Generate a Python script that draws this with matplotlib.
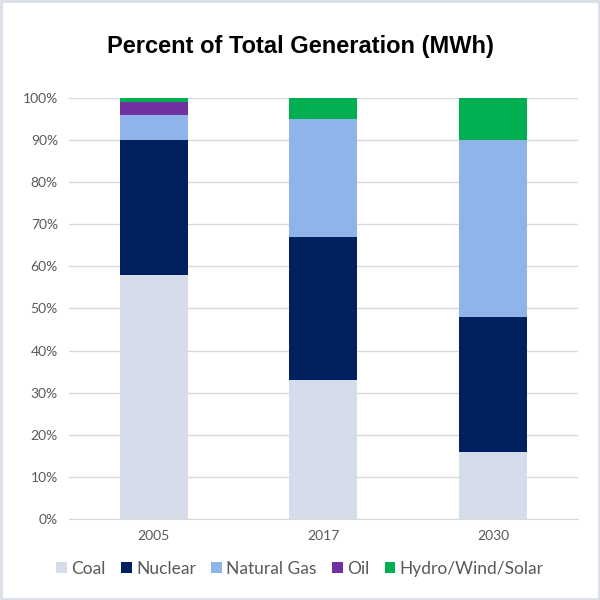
import matplotlib
matplotlib.use("Agg")
import matplotlib.pyplot as plt
from matplotlib.patches import Rectangle
import numpy as np

years = ["2005", "2017", "2030"]
coal = [58, 33, 16]
nuclear = [32, 34, 32]
natural_gas = [6, 28, 42]
oil = [3, 0, 0]
hydro_wind_solar = [1, 5, 10]

series = [
    ("Coal", coal, "#D6DCE9"),
    ("Nuclear", nuclear, "#002060"),
    ("Natural Gas", natural_gas, "#8FB4EA"),
    ("Oil", oil, "#7030A0"),
    ("Hydro/Wind/Solar", hydro_wind_solar, "#00B050"),
]
title = "Percent of Total Generation (MWh)"

plt.rcParams['font.family'] = ['Lato', 'DejaVu Sans']

fig = plt.figure(figsize=(6, 6), dpi=100)
ax = fig.add_axes([0.115, 0.135, 0.848, 0.702])

x = np.arange(len(years))
bottom = np.zeros(len(years))
for name, vals, col in series:
    ax.bar(x, vals, 0.4, bottom=bottom, color=col, label=name, zorder=3)
    bottom += np.array(vals)

ax.set_xlim(-0.5, 2.5)
ax.set_ylim(0, 100)
ax.set_yticks(range(0, 101, 10))
ax.set_yticklabels([f"{v}%" for v in range(0, 101, 10)])
ax.set_xticks(x)
ax.set_xticklabels(years)
ax.tick_params(colors="#595959", labelsize=10, length=0, pad=8)
ax.grid(axis="y", color="#D9D9D9", linewidth=1, zorder=0)
for s in ["top", "right", "left"]:
    ax.spines[s].set_visible(False)
ax.spines["bottom"].set_color("#D9D9D9")

fig.text(0.5, 0.922, title, ha="center", va="center", fontsize=17, fontweight="bold",
         family=["Liberation Sans", "DejaVu Sans"])

leg = fig.legend(loc="center", bbox_to_anchor=(0.5, 0.052), ncol=5, frameon=False,
                 fontsize=12.5, handlelength=0.6, handleheight=0.6, handletextpad=0.25,
                 columnspacing=0.9, labelcolor="#595959")

fig.patches.append(Rectangle((0.002, 0.002), 0.996, 0.996, transform=fig.transFigure,
                             fill=False, edgecolor="#D9DEE8", linewidth=2))

fig.savefig("out.png", dpi=100)
